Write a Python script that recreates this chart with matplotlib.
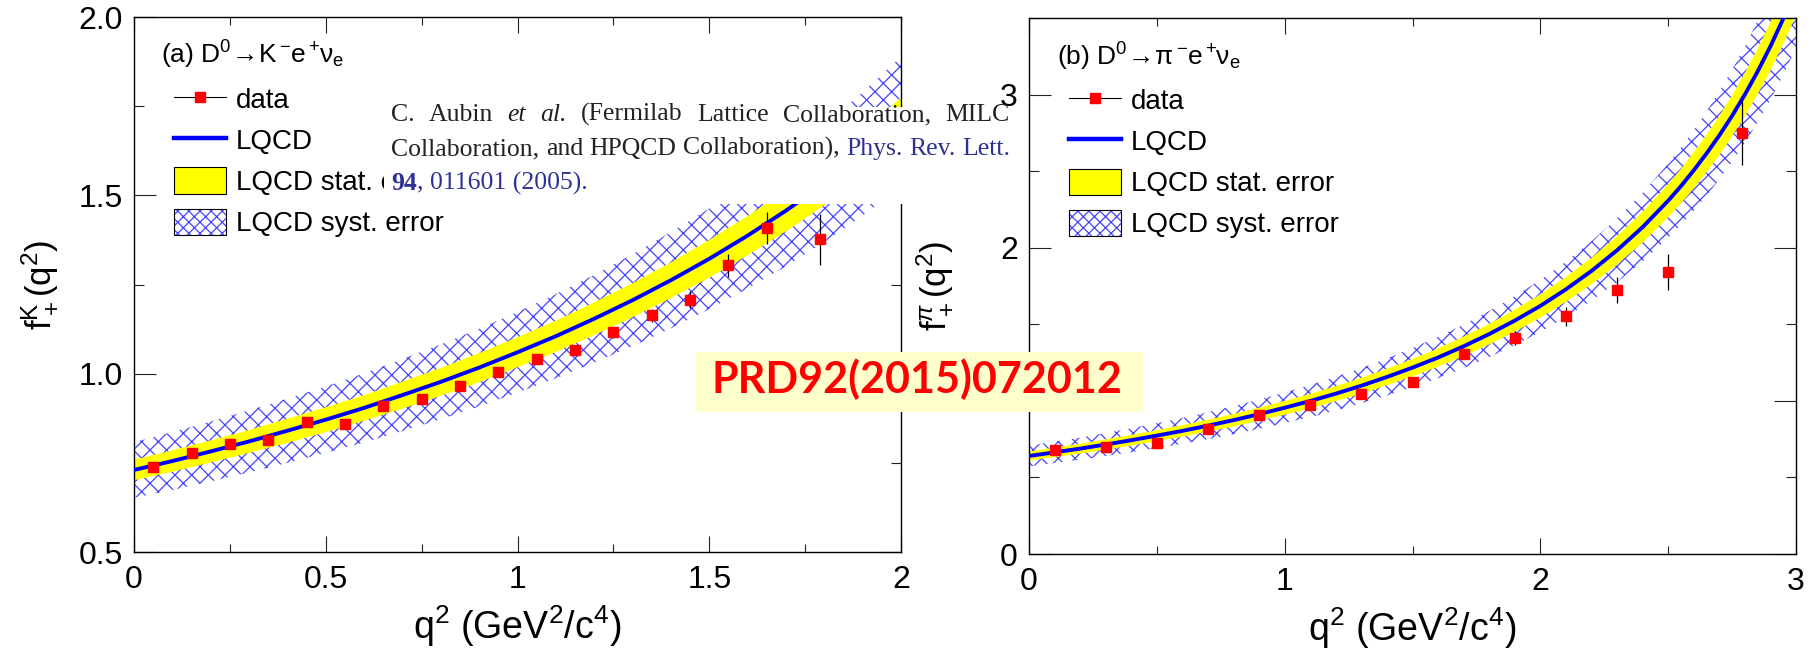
import matplotlib.pyplot as plt
from matplotlib.lines import Line2D
from matplotlib.patches import Patch, Rectangle
from matplotlib.legend_handler import HandlerTuple
from matplotlib.ticker import MultipleLocator

plt.rcParams['font.family'] = ['Liberation Sans', 'DejaVu Sans']
plt.rcParams['mathtext.fontset'] = 'custom'
plt.rcParams['mathtext.rm'] = 'Liberation Sans'
plt.rcParams['mathtext.it'] = 'Liberation Sans:italic'
plt.rcParams['mathtext.bf'] = 'Liberation Sans:bold'
plt.rcParams['hatch.linewidth'] = 0.9

# ---- (a) D0 -> K- e+ nu_e ----
k_q2 = [0.05, 0.15, 0.25, 0.35, 0.45, 0.55, 0.65, 0.75, 0.85, 0.95,
        1.05, 1.15, 1.25, 1.35, 1.45, 1.55, 1.65, 1.79]
k_ff = [0.737, 0.777, 0.802, 0.814, 0.864, 0.860, 0.909, 0.928, 0.965, 1.004,
        1.040, 1.067, 1.116, 1.164, 1.207, 1.304, 1.408, 1.377]
k_err = [0.008, 0.008, 0.008, 0.008, 0.009, 0.009, 0.010, 0.010, 0.011, 0.011,
         0.012, 0.013, 0.015, 0.018, 0.024, 0.032, 0.044, 0.072]

# lattice prediction, with stat. and syst. half widths
k_lq_q2 = [0.0, 0.1, 0.2, 0.3, 0.4, 0.5, 0.6, 0.7, 0.8, 0.9, 1.0,
           1.1, 1.2, 1.3, 1.4, 1.5, 1.6, 1.7, 1.8, 1.9, 2.0]
k_lq = [0.730, 0.755, 0.782, 0.810, 0.840, 0.871, 0.904, 0.940, 0.977, 1.017, 1.060,
        1.105, 1.154, 1.206, 1.262, 1.322, 1.387, 1.457, 1.533, 1.616, 1.706]
k_stat = [0.029, 0.030, 0.031, 0.032, 0.034, 0.035, 0.036, 0.038, 0.039, 0.041, 0.042,
          0.044, 0.046, 0.048, 0.050, 0.053, 0.055, 0.058, 0.061, 0.065, 0.068]
k_syst = [0.078, 0.081, 0.084, 0.087, 0.090, 0.093, 0.097, 0.101, 0.105, 0.109, 0.113,
          0.118, 0.123, 0.129, 0.135, 0.141, 0.148, 0.156, 0.164, 0.173, 0.183]

# ---- (b) D0 -> pi- e+ nu_e ----
pi_q2 = [0.1, 0.3, 0.5, 0.7, 0.9, 1.1, 1.3, 1.5, 1.7, 1.9, 2.1, 2.3, 2.5, 2.79]
pi_ff = [0.680, 0.698, 0.728, 0.818, 0.909, 0.974, 1.045, 1.122, 1.306, 1.410,
         1.552, 1.722, 1.842, 2.750]
pi_err = [0.010, 0.010, 0.012, 0.013, 0.015, 0.018, 0.022, 0.026, 0.032, 0.047,
          0.060, 0.084, 0.120, 0.207]

pi_lq_q2 = [0.0, 0.1, 0.2, 0.3, 0.4, 0.5, 0.6, 0.7, 0.8, 0.9, 1.0, 1.1, 1.2,
            1.3, 1.4, 1.5, 1.6, 1.7, 1.8, 1.9, 2.0, 2.1, 2.2, 2.3, 2.4, 2.5,
            2.55, 2.6, 2.65, 2.7, 2.75, 2.8, 2.85, 2.9, 2.95, 3.0]
pi_lq = [0.640, 0.664, 0.688, 0.715, 0.743, 0.773, 0.804, 0.838, 0.874, 0.913,
         0.955, 0.999, 1.047, 1.099, 1.156, 1.217, 1.283, 1.356, 1.436, 1.524,
         1.620, 1.728, 1.848, 1.983, 2.134, 2.307, 2.402, 2.505, 2.615, 2.733,
         2.861, 3.000, 3.151, 3.315, 3.495, 3.692]
pi_stat = [0.030, 0.031, 0.032, 0.034, 0.035, 0.036, 0.038, 0.039, 0.041, 0.043,
           0.045, 0.047, 0.049, 0.052, 0.054, 0.057, 0.060, 0.064, 0.067, 0.072,
           0.076, 0.081, 0.087, 0.093, 0.100, 0.108, 0.113, 0.118, 0.123, 0.128,
           0.134, 0.141, 0.148, 0.156, 0.164, 0.174]
pi_syst = [0.067, 0.070, 0.072, 0.075, 0.078, 0.081, 0.084, 0.088, 0.092, 0.096,
           0.100, 0.105, 0.110, 0.115, 0.121, 0.128, 0.135, 0.142, 0.151, 0.160,
           0.170, 0.181, 0.194, 0.208, 0.224, 0.242, 0.252, 0.263, 0.275, 0.287,
           0.300, 0.315, 0.331, 0.348, 0.367, 0.388]

k_xticklabels = ['0', '0.5', '1', '1.5', '2']
legend_labels = ['data', 'LQCD', 'LQCD stat. error', 'LQCD syst. error']

W, H = 1820, 654
fig = plt.figure(figsize=(W / 100, H / 100), dpi=100)
renderer = fig.canvas.get_renderer()


def fx(px):
    return px / W


def fy(py):
    return 1 - py / H


def draw_panel(ax, q2, ff, err, lq_q2, lq, stat, syst):
    lo_s = [c - s for c, s in zip(lq, syst)]
    hi_s = [c + s for c, s in zip(lq, syst)]
    lo_t = [c - s for c, s in zip(lq, stat)]
    hi_t = [c + s for c, s in zip(lq, stat)]
    ax.fill_between(lq_q2, lo_s, hi_s, facecolor='white', edgecolor='#4444ff',
                    hatch='xx', linewidth=0, zorder=1)
    ax.fill_between(lq_q2, lo_t, hi_t, facecolor='#ffff00', linewidth=0, zorder=2)
    ax.plot(lq_q2, lq, color='#0000ff', lw=2.8, zorder=3)
    ax.errorbar(q2, ff, yerr=err, fmt='s', ms=7.5, mfc='#ff0000', mec='#ff0000',
                ecolor='black', elinewidth=0.9, capsize=0, zorder=4)

    ax.tick_params(which='both', direction='in', top=True, right=True,
                   width=0.8, color='#222222', labelsize=23)
    ax.tick_params(axis='y', which='major', length=16, pad=8)
    ax.tick_params(axis='y', which='minor', length=7.5)
    ax.tick_params(axis='x', which='major', length=11.5, pad=9)
    ax.tick_params(axis='x', which='minor', length=6)
    for s in ax.spines.values():
        s.set_linewidth(1.0)

    ax.set_xlabel('q$^2$ (GeV$^2$/c$^4$)', fontsize=27, va='baseline')
    ax.xaxis.set_label_coords(0.5, -0.163)

    handles = [
        Line2D([], [], color='black', lw=0.8, marker='s', ms=7, mfc='#ff0000', mec='#ff0000'),
        Line2D([], [], color='#0000ff', lw=3.2),
        Patch(facecolor='#ffff00', edgecolor='black', lw=0.8),
        (Patch(facecolor='white', edgecolor='#4444ff', hatch='xxx', lw=0),
         Patch(facecolor='none', edgecolor='black', lw=0.8)),
    ]
    ax.legend(handles, legend_labels, handler_map={tuple: HandlerTuple(ndivide=1, pad=0)},
              loc='upper left', bbox_to_anchor=(0.052, 0.8725), frameon=False, fontsize=20,
              handlelength=1.87, handleheight=1.08, handletextpad=0.36, labelspacing=0.45,
              borderpad=0, borderaxespad=0)


# left panel
axk = fig.add_axes([fx(134), fy(552), fx(767), 535 / H])
draw_panel(axk, k_q2, k_ff, k_err, k_lq_q2, k_lq, k_stat, k_syst)
axk.set_xlim(0, 2)
axk.set_ylim(0.5, 2.0)
axk.xaxis.set_major_locator(MultipleLocator(0.5))
axk.xaxis.set_minor_locator(MultipleLocator(0.25))
axk.yaxis.set_major_locator(MultipleLocator(0.5))
axk.yaxis.set_minor_locator(MultipleLocator(0.25))
axk.set_xticks([0, 0.5, 1, 1.5, 2], k_xticklabels)
axk.set_ylabel(r'f$_+^{\mathrm{K}}$(q$^2$)', fontsize=25)
axk.yaxis.set_label_coords(-75 / 767, 0.5)
axk.text(0.035, 0.93, r'(a) $\mathrm{D^0\!\rightarrow\!K^-\!e^+\!\nu_e}$',
         transform=axk.transAxes, fontsize=19, va='center')

# right panel
axp = fig.add_axes([fx(1029), fy(554), fx(767), 536 / H])
draw_panel(axp, pi_q2, pi_ff, pi_err, pi_lq_q2, pi_lq, pi_stat, pi_syst)
axp.set_xlim(0, 3)
axp.set_ylim(0, 3.5)
axp.xaxis.set_major_locator(MultipleLocator(1))
axp.xaxis.set_minor_locator(MultipleLocator(0.5))
axp.yaxis.set_major_locator(MultipleLocator(1))
axp.yaxis.set_minor_locator(MultipleLocator(0.5))
axp.set_ylabel(r'f$_+^{\pi}$(q$^2$)', fontsize=25)
axp.yaxis.set_label_coords(-75 / 767, 0.5)
axp.text(0.036, 0.928, r'(b) $\mathrm{D^0\!\rightarrow\!\pi^-\!e^+\!\nu_e}$',
         transform=axp.transAxes, fontsize=19, va='center')

# reference note pasted over the left panel
fig.add_artist(Rectangle((fx(384), fy(204)), fx(631), 97 / H, transform=fig.transFigure,
                         facecolor='white', edgecolor='none', zorder=5))
ink = '#222222'
blue = '#2e3192'
serif = dict(family='Liberation Serif', fontsize=18.5, va='baseline', zorder=6)
x_left, x_right = 391, 1010


def justify_line(items, y_px):
    texts = [fig.text(0, fy(y_px), word, **serif, **kw) for word, kw in items]
    widths = [t.get_window_extent(renderer).width for t in texts]
    gap = (x_right - x_left - sum(widths)) / (len(texts) - 1)
    x = x_left
    for t, w in zip(texts, widths):
        t.set_x(fx(x))
        x += w + gap


plain = dict(color=ink)
ital = dict(color=ink, style='italic')
link = dict(color=blue)
justify_line([('C.', plain), ('Aubin', plain), ('et', ital), ('al.', ital),
              ('(Fermilab', plain), ('Lattice', plain), ('Collaboration,', plain),
              ('MILC', plain)], 121)
justify_line([('Collaboration,', plain), ('and', plain), ('HPQCD', plain),
              ('Collaboration),', plain), ('Phys.', link), ('Rev.', link),
              ('Lett.', link)], 155)
t94 = fig.text(fx(x_left), fy(190), '94', color=blue, weight='bold', **serif)
w94 = t94.get_window_extent(renderer).width
fig.text(fx(x_left + w94), fy(190), ', 011601 (2005).', color=blue, **serif)

# publication tag
fig.add_artist(Rectangle((fx(696), fy(412)), fx(447), 60 / H, transform=fig.transFigure,
                         facecolor='#ffffcc', edgecolor='none', zorder=5))
fig.text(fx(917), fy(393), 'PRD92(2015)072012', family='Lato', weight='bold',
         fontsize=31, color='#ff0000', ha='center', va='baseline', zorder=6)

fig.savefig('out.png', dpi=100)
